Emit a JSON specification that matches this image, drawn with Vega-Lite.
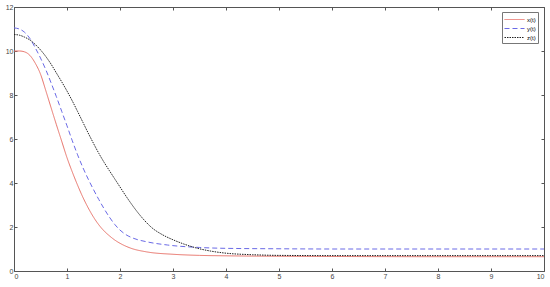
{
  "$schema": "https://vega.github.io/schema/vega-lite/v6.json",
  "width": 530,
  "height": 264,
  "autosize": "none",
  "padding": {"left": 14, "top": 7, "right": 6, "bottom": 16},
  "background": "white",
  "config": {
    "view": {"stroke": "#555", "strokeWidth": 1},
    "axis": {"grid": false, "domain": false, "labelFont": "Liberation Sans", "labelFontSize": 7, "labelColor": "#444", "tickColor": "#555", "tickSize": -3, "labelPadding": 4}
  },
  "datasets": {
    "curves": [
      {"t": 0, "v": 10, "s": "x(t)"}, {"t": 0.1, "v": 10, "s": "x(t)"}, {"t": 0.2, "v": 9.96, "s": "x(t)"}, {"t": 0.3, "v": 9.8, "s": "x(t)"}, {"t": 0.4, "v": 9.45, "s": "x(t)"}, {"t": 0.5, "v": 8.95, "s": "x(t)"}, {"t": 0.6, "v": 8.2, "s": "x(t)"}, {"t": 0.7, "v": 7.42, "s": "x(t)"}, {"t": 0.8, "v": 6.65, "s": "x(t)"}, {"t": 0.9, "v": 5.9, "s": "x(t)"}, {"t": 1.0, "v": 5.15, "s": "x(t)"}, {"t": 1.1, "v": 4.5, "s": "x(t)"}, {"t": 1.2, "v": 3.9, "s": "x(t)"}, {"t": 1.3, "v": 3.35, "s": "x(t)"}, {"t": 1.4, "v": 2.87, "s": "x(t)"}, {"t": 1.5, "v": 2.45, "s": "x(t)"}, {"t": 1.6, "v": 2.1, "s": "x(t)"}, {"t": 1.7, "v": 1.82, "s": "x(t)"}, {"t": 1.8, "v": 1.6, "s": "x(t)"}, {"t": 1.9, "v": 1.41, "s": "x(t)"}, {"t": 2.0, "v": 1.26, "s": "x(t)"}, {"t": 2.2, "v": 1.04, "s": "x(t)"}, {"t": 2.5, "v": 0.87, "s": "x(t)"}, {"t": 3.0, "v": 0.76, "s": "x(t)"}, {"t": 3.5, "v": 0.71, "s": "x(t)"}, {"t": 4.0, "v": 0.69, "s": "x(t)"}, {"t": 5.0, "v": 0.67, "s": "x(t)"}, {"t": 6.0, "v": 0.66, "s": "x(t)"}, {"t": 8.0, "v": 0.65, "s": "x(t)"}, {"t": 10.0, "v": 0.65, "s": "x(t)"},
      {"t": 0, "v": 11.05, "s": "y(t)"}, {"t": 0.1, "v": 11.0, "s": "y(t)"}, {"t": 0.2, "v": 10.85, "s": "y(t)"}, {"t": 0.3, "v": 10.57, "s": "y(t)"}, {"t": 0.4, "v": 10.15, "s": "y(t)"}, {"t": 0.5, "v": 9.68, "s": "y(t)"}, {"t": 0.6, "v": 9.15, "s": "y(t)"}, {"t": 0.7, "v": 8.55, "s": "y(t)"}, {"t": 0.8, "v": 7.92, "s": "y(t)"}, {"t": 0.9, "v": 7.26, "s": "y(t)"}, {"t": 1.0, "v": 6.6, "s": "y(t)"}, {"t": 1.1, "v": 5.92, "s": "y(t)"}, {"t": 1.2, "v": 5.28, "s": "y(t)"}, {"t": 1.3, "v": 4.7, "s": "y(t)"}, {"t": 1.4, "v": 4.18, "s": "y(t)"}, {"t": 1.5, "v": 3.7, "s": "y(t)"}, {"t": 1.6, "v": 3.25, "s": "y(t)"}, {"t": 1.7, "v": 2.83, "s": "y(t)"}, {"t": 1.8, "v": 2.45, "s": "y(t)"}, {"t": 1.9, "v": 2.12, "s": "y(t)"}, {"t": 2.0, "v": 1.86, "s": "y(t)"}, {"t": 2.1, "v": 1.67, "s": "y(t)"}, {"t": 2.25, "v": 1.49, "s": "y(t)"}, {"t": 2.5, "v": 1.33, "s": "y(t)"}, {"t": 2.9, "v": 1.18, "s": "y(t)"}, {"t": 3.5, "v": 1.07, "s": "y(t)"}, {"t": 4.0, "v": 1.03, "s": "y(t)"}, {"t": 5.0, "v": 1.01, "s": "y(t)"}, {"t": 6.0, "v": 1.0, "s": "y(t)"}, {"t": 10.0, "v": 1.0, "s": "y(t)"},
      {"t": 0, "v": 10.75, "s": "z(t)"}, {"t": 0.1, "v": 10.72, "s": "z(t)"}, {"t": 0.2, "v": 10.63, "s": "z(t)"}, {"t": 0.3, "v": 10.5, "s": "z(t)"}, {"t": 0.4, "v": 10.3, "s": "z(t)"}, {"t": 0.5, "v": 10.05, "s": "z(t)"}, {"t": 0.6, "v": 9.75, "s": "z(t)"}, {"t": 0.7, "v": 9.4, "s": "z(t)"}, {"t": 0.8, "v": 9.0, "s": "z(t)"}, {"t": 0.9, "v": 8.6, "s": "z(t)"}, {"t": 1.0, "v": 8.18, "s": "z(t)"}, {"t": 1.1, "v": 7.73, "s": "z(t)"}, {"t": 1.2, "v": 7.25, "s": "z(t)"}, {"t": 1.3, "v": 6.76, "s": "z(t)"}, {"t": 1.4, "v": 6.27, "s": "z(t)"}, {"t": 1.5, "v": 5.8, "s": "z(t)"}, {"t": 1.6, "v": 5.35, "s": "z(t)"}, {"t": 1.7, "v": 4.94, "s": "z(t)"}, {"t": 1.8, "v": 4.56, "s": "z(t)"}, {"t": 1.9, "v": 4.19, "s": "z(t)"}, {"t": 2.0, "v": 3.82, "s": "z(t)"}, {"t": 2.1, "v": 3.45, "s": "z(t)"}, {"t": 2.2, "v": 3.1, "s": "z(t)"}, {"t": 2.3, "v": 2.77, "s": "z(t)"}, {"t": 2.4, "v": 2.47, "s": "z(t)"}, {"t": 2.5, "v": 2.2, "s": "z(t)"}, {"t": 2.6, "v": 1.97, "s": "z(t)"}, {"t": 2.8, "v": 1.65, "s": "z(t)"}, {"t": 3.0, "v": 1.42, "s": "z(t)"}, {"t": 3.2, "v": 1.23, "s": "z(t)"}, {"t": 3.45, "v": 1.04, "s": "z(t)"}, {"t": 3.7, "v": 0.91, "s": "z(t)"}, {"t": 4.0, "v": 0.81, "s": "z(t)"}, {"t": 4.5, "v": 0.74, "s": "z(t)"}, {"t": 5.0, "v": 0.71, "s": "z(t)"}, {"t": 6.0, "v": 0.7, "s": "z(t)"}, {"t": 8.0, "v": 0.7, "s": "z(t)"}, {"t": 10.0, "v": 0.7, "s": "z(t)"}
    ]
  },
  "data": {"name": "curves"},
  "resolve": {"axis": {"x": "independent", "y": "independent"}},
  "layer": [
    {
      "mark": {"type": "line", "strokeWidth": 1, "interpolate": "monotone"},
      "encoding": {
        "x": {"field": "t", "type": "quantitative", "scale": {"domain": [0, 10], "nice": false}, "axis": {"title": null, "values": [0,1,2,3,4,5,6,7,8,9,10]}},
        "y": {"field": "v", "type": "quantitative", "scale": {"domain": [0, 12], "nice": false}, "axis": {"title": null, "values": [0,2,4,6,8,10,12]}},
        "color": {"field": "s", "type": "nominal", "scale": {"domain": ["x(t)", "y(t)", "z(t)"], "range": ["#e8736a", "#6a6ae6", "#222222"]},
          "legend": {"title": null, "orient": "none", "legendX": 488, "legendY": 5, "strokeColor": "#777", "fillColor": "white", "padding": 2, "labelFontSize": 6, "labelFont": "Liberation Sans", "labelColor": "#000000", "symbolType": "M-2,0L2,0", "symbolSize": 100, "symbolStrokeWidth": 1, "symbolOffset": 5, "rowPadding": -2, "labelOffset": 7}},
        "strokeDash": {"field": "s", "type": "nominal", "scale": {"domain": ["x(t)", "y(t)", "z(t)"], "range": [[1, 0], [5, 3], [1.5, 1]]}, "legend": null},
        "order": {"field": "t", "type": "quantitative"}
      }
    },
    {
      "mark": {"type": "point", "opacity": 0},
      "encoding": {
        "x": {"field": "t", "type": "quantitative", "scale": {"domain": [0, 10], "nice": false}, "axis": {"title": null, "orient": "top", "labels": false, "values": [0,1,2,3,4,5,6,7,8,9,10]}},
        "y": {"field": "v", "type": "quantitative", "scale": {"domain": [0, 12], "nice": false}, "axis": {"title": null, "orient": "right", "labels": false, "values": [0,2,4,6,8,10,12]}}
      }
    }
  ]
}
